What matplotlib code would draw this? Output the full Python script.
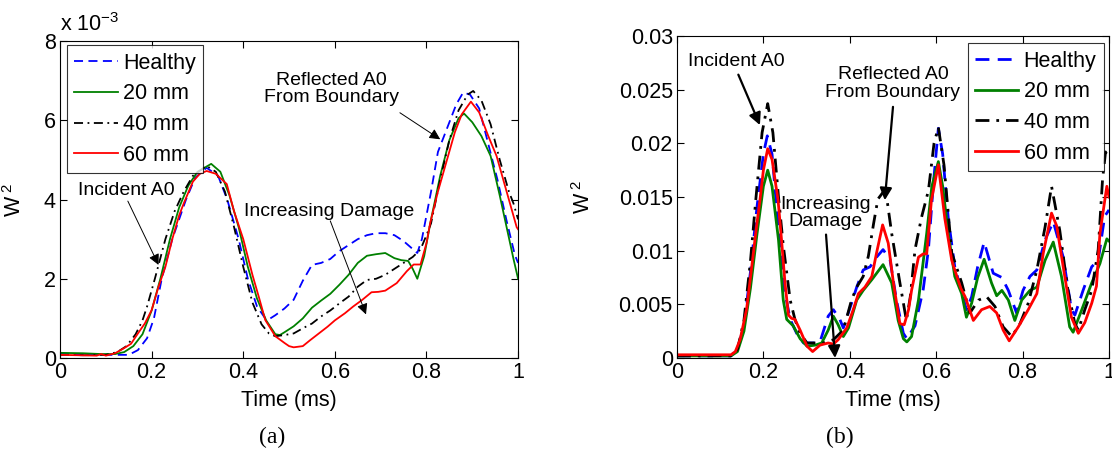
import numpy as np
import matplotlib
matplotlib.use("Agg")
from matplotlib import pyplot as plt

plt.rcParams['font.family'] = ['Liberation Sans', 'DejaVu Sans']
plt.rcParams['mathtext.fontset'] = 'custom'
plt.rcParams['mathtext.rm'] = 'Liberation Sans'
plt.rcParams['mathtext.it'] = 'Liberation Sans'
plt.rcParams['mathtext.default'] = 'regular'

labels = ['Healthy', '20 mm', '40 mm', '60 mm']

# ---- (a) energy, in units of 1e-3 ----
t_healthy_a = [0, .03, .06, .09, .12, .15, .17, .19, .205, .222, .245, .275, .295, .32, .345, .365,
               .39, .41, .43, .448, .455, .47, .49, .51, .53, .55, .57, .59, .61, .63, .65, .67,
               .69, .71, .73, .75, .77, .78, .79, .80, .81, .825, .845, .865, .88, .895, .915,
               .935, .955, .975, .993, 1.0]
healthy_a = [.11, .1, .09, .08, .08, .08, .2, .5, 1.0, 2.0, 3.0, 4.0, 4.55, 4.8, 4.6, 4.0,
             3.0, 2.0, 1.3, 1.0, .97, 1.08, 1.25, 1.47, 1.95, 2.35, 2.4, 2.5, 2.7, 2.85, 3.0, 3.1,
             3.15, 3.15, 3.1, 2.95, 2.75, 2.65, 3.0, 3.6, 4.2, 5.2, 5.8, 6.4, 6.7, 6.65, 6.3,
             5.4, 4.5, 3.46, 2.6, 2.4]

t_20mm_a = [0, .05, .09, .12, .14, .16, .18, .20, .219, .24, .26, .28, .30, .33, .35, .37, .39,
            .41, .43, .45, .47, .48, .49, .51, .53, .55, .57, .59, .61, .63, .65, .67, .69, .71,
            .73, .745, .76, .77, .78, .795, .81, .83, .85, .87, .882, .90, .92, .94, .96, .975,
            .99, 1.0]
mm20_a = [.13, .12, .1, .1, .15, .3, .6, 1.2, 2.0, 3.0, 3.8, 4.35, 4.7, 4.9, 4.7, 4.1, 3.3,
          2.3, 1.5, .95, .6, .58, .65, .8, 1.0, 1.27, 1.45, 1.62, 1.85, 2.1, 2.4, 2.58, 2.62, 2.65,
          2.52, 2.47, 2.45, 2.25, 2.0, 2.57, 3.5, 4.6, 5.5, 6.05, 6.17, 5.95, 5.6, 5.1, 4.1, 3.3,
          2.5, 2.0]

t_40mm_a = [0, .05, .1, .125, .145, .165, .18, .19, .207, .23, .25, .27, .29, .32, .34, .36, .38,
            .40, .42, .44, .456, .47, .49, .51, .53, .55, .57, .59, .61, .63, .65, .67, .69, .71,
            .73, .75, .77, .787, .80, .81, .83, .85, .87, .89, .902, .92, .94, .96, .98, .99, 1.0]
mm40_a = [.08, .07, .08, .15, .3, .6, .95, 1.3, 2.0, 3.0, 3.7, 4.2, 4.6, 4.85, 4.7, 4.2, 3.3,
          2.3, 1.4, .85, .62, .55, .58, .62, .75, .87, 1.05, 1.2, 1.38, 1.55, 1.8, 1.97, 2.0, 2.1,
          2.25, 2.4, 2.55, 2.74, 3.1, 3.4, 4.5, 5.5, 6.25, 6.65, 6.74, 6.5, 5.9, 5.0, 4.2, 3.9, 3.5]

t_60mm_a = [0, .04, .08, .09, .1, .12, .14, .155, .17, .185, .20, .215, .23, .245, .26, .27,
            .29, .305, .32, .34, .364, .38, .40, .42, .435, .448, .47, .49, .50, .51, .53, .546,
            .565, .584, .60, .622, .64, .66, .68, .695, .71, .735, .757, .772, .787, .80, .808,
            .825, .844, .862, .877, .897, .915, .935, .953, .975, .997, 1.0]
mm60_a = [.08, .07, .06, .1, .06, .12, .25, .36, .62, .87, 1.21, 1.8, 2.3, 3.0, 3.6, 3.9,
          4.45, 4.65, 4.72, 4.65, 4.39, 3.7, 3.0, 2.1, 1.5, .96, .55, .38, .3, .27, .3, .45,
          .62, .79, .95, 1.13, 1.3, 1.47, 1.66, 1.67, 1.70, 1.89, 2.19, 2.36, 2.36, 2.9, 3.4,
          4.2, 4.97, 5.7, 6.15, 6.47, 6.2, 5.6, 5.1, 4.2, 3.3, 3.25]

# ---- (b) energy ----
t_healthy_b = [0, .125, .14, .155, .17, .185, .20, .209, .22, .235, .248, .262, .277, .293, .316,
               .331, .35, .362, .377, .385, .404, .416, .431, .447, .462, .477, .493, .508, .524,
               .532, .551, .57, .582, .593, .605, .615, .628, .643, .67, .682, .696, .711, .732,
               .752, .767, .786, .801, .817, .833, .852, .871, .894, .913, .921, .94, .96, .975,
               .99, 1.0]
healthy_b = [.0002, .0002, .0008, .003, .008, .014, .019, .0207, .019, .012, .0065, .0036, .0023,
             .0014, .0014, .0015, .0039, .0045, .0036, .0028, .0051, .0066, .0082, .0085, .0094,
             .0101, .0092, .0054, .0023, .0018, .0030, .0064, .0101, .016, .0214, .019, .013,
             .0085, .0045, .0057, .0085, .0108, .0079, .0075, .0063, .0042, .0063, .0076, .0082,
             .0110, .0127, .0094, .0045, .0040, .0063, .0085, .0091, .0132, .0138]

t_20mm_b = [0, .125, .14, .155, .17, .185, .20, .21, .22, .235, .246, .254, .269, .285, .301,
            .32, .335, .35, .362, .373, .385, .397, .416, .431, .451, .477, .497, .512, .524,
            .532, .543, .559, .578, .59, .605, .615, .628, .643, .659, .670, .682, .696, .711,
            .728, .74, .752, .767, .782, .798, .817, .833, .852, .871, .89, .909, .917, .937,
            .96, .979, .995, 1.0]
mm20_b = [.0002, .0002, .0006, .0025, .0065, .0115, .016, .0175, .016, .011, .0054, .0036, .0030,
          .0018, .0011, .0012, .0014, .0026, .0039, .0031, .0020, .0028, .0054, .0063, .0073,
          .0087, .0070, .0035, .0018, .0015, .0020, .0054, .0116, .016, .0183, .016, .0116,
          .0076, .0060, .0038, .0051, .0075, .0092, .0070, .0058, .0063, .0054, .0035, .0054,
          .0063, .0066, .0091, .0108, .0076, .0029, .0024, .0045, .0070, .0088, .0111, .0109]

t_40mm_b = [0, .125, .14, .155, .17, .183, .197, .21, .222, .235, .246, .262, .273, .285, .301,
            .32, .339, .362, .385, .404, .416, .431, .443, .455, .465, .478, .487, .497, .516,
            .531, .54, .551, .566, .582, .595, .605, .618, .636, .659, .678, .698, .717, .736,
            .755, .775, .794, .813, .833, .852, .867, .886, .905, .921, .929, .944, .96, .975,
            .985, .992, 1.0]
mm40_b = [.0002, .0002, .0008, .0035, .009, .015, .021, .0237, .021, .015, .0105, .0054, .0036,
          .0023, .0014, .0014, .0014, .0017, .0026, .0054, .0066, .0076, .0095, .0125, .0148,
          .0155, .0145, .0116, .0070, .0035, .0057, .0101, .0131, .0156, .0200, .0215, .018,
          .0098, .0070, .0042, .0054, .0057, .0048, .0029, .0020, .0032, .0051, .0082, .0122,
          .0160, .0119, .0063, .0032, .0026, .0045, .0063, .0101, .0166, .0192, .0185]

t_60mm_b = [0, .05, .10, .125, .135, .146, .161, .173, .184, .192, .20, .21, .22, .234, .242,
            .25, .258, .265, .273, .285, .301, .314, .331, .35, .362, .373, .393, .408, .42,
            .435, .451, .462, .476, .489, .501, .516, .526, .536, .543, .559, .570, .578, .589,
            .605, .62, .636, .643, .657, .667, .686, .705, .724, .74, .755, .769, .79, .813,
            .833, .848, .867, .879, .894, .913, .929, .944, .96, .971, .979, .995, 1.0]
mm60_b = [.0003, .0003, .0003, .0003, .0006, .0017, .0045, .0085, .0122, .0147, .0175, .0195,
          .0185, .0147, .011, .007, .0040, .0037, .0036, .0026, .0011, .0006, .0012, .0014,
          .0013, .0017, .0028, .0045, .0060, .0066, .0076, .0098, .0124, .0107, .0070, .0032,
          .0031, .0045, .0063, .0094, .0097, .0097, .0147, .0180, .013, .0091, .0082, .0065,
          .0057, .0035, .0045, .0048, .0042, .0026, .0016, .0029, .0045, .0060, .0098, .0135,
          .0123, .0085, .0038, .0023, .0033, .0051, .0067, .0116, .0160, .0150]

colors = ['#0000ff', '#008000', '#000000', '#ff0000']
styles = [(0, (5, 3)), '-', (0, (5, 2.5, 1, 2.5)), '-']

fig = plt.figure(figsize=(11.12, 4.61), dpi=100)
ax_a = fig.add_axes([0.054, 0.2234, 0.4119, 0.6876])
ax_b = fig.add_axes([0.6088, 0.2234, 0.3885, 0.6985])

series_a = [(t_healthy_a, healthy_a), (t_20mm_a, mm20_a), (t_40mm_a, mm40_a), (t_60mm_a, mm60_a)]
series_b = [(t_healthy_b, healthy_b), (t_20mm_b, mm20_b), (t_40mm_b, mm40_b), (t_60mm_b, mm60_b)]

for (t, v), c, ls, lab in zip(series_a, colors, styles, labels):
    ax_a.plot(t, v, color=c, linestyle=ls, lw=1.3, label=lab)
for (t, v), c, ls, lab in zip(series_b, colors, styles, labels):
    ax_b.plot(t, v, color=c, linestyle=ls, lw=2.0, label=lab)

ax_a.set_xlim(0, 1)
ax_a.set_ylim(0, 8)
ax_a.set_yticks([0, 2, 4, 6, 8])
ax_a.set_yticklabels(['0', '2', '4', '6', '8'])
ax_b.set_xlim(0, 1)
ax_b.set_ylim(0, 0.03)
ax_b.set_yticks([0, .005, .01, .015, .02, .025, .03])
ax_b.set_yticklabels(['0', '0.005', '0.01', '0.015', '0.02', '0.025', '0.03'])

for ax in (ax_a, ax_b):
    ax.set_xticks([0, .2, .4, .6, .8, 1])
    ax.set_xticklabels(['0', '0.2', '0.4', '0.6', '0.8', '1'])
    ax.tick_params(direction='in', top=True, right=True, length=5, width=0.8,
                   labelsize=15.5, pad=3)
    for s in ax.spines.values():
        s.set_linewidth(0.8)
    ax.set_xlabel('Time (ms)', fontsize=15.5)
    ax.set_ylabel('W$^{\\ 2}$', fontsize=15.5)

ax_a.xaxis.set_label_coords(0.5, -0.1)
ax_b.xaxis.set_label_coords(0.5, -0.1)
ax_a.yaxis.set_label_coords(-0.075, 0.5)
ax_b.yaxis.set_label_coords(-0.19, 0.5)

ax_a.text(0.0, 1.015, 'x 10$^{-3}$', transform=ax_a.transAxes, fontsize=15.5,
          ha='left', va='bottom')

leg_kw = dict(fontsize=15.5, frameon=True, fancybox=False, edgecolor='black',
              handlelength=2.0, handletextpad=0.25, labelspacing=0.45, borderpad=0.35,
              borderaxespad=0)
leg_a = ax_a.legend(loc='upper left', bbox_to_anchor=(0.015, 0.987), **leg_kw)
leg_b = ax_b.legend(loc='upper right', bbox_to_anchor=(0.988, 0.978), **leg_kw)
for leg in (leg_a, leg_b):
    leg.get_frame().set_linewidth(0.8)

# annotations on (a)
arrow_a = dict(arrowstyle='-|>', color='black', lw=0.7, mutation_scale=16, shrinkA=0, shrinkB=0)
ax_a.text(0.144, 4.24, 'Incident A0', fontsize=14, ha='center', va='center')
ax_a.annotate('', xy=(0.215, 2.35), xytext=(0.148, 3.96), arrowprops=arrow_a)
ax_a.text(0.593, 6.79, 'Reflected A0\nFrom Boundary', fontsize=14, ha='center', va='center',
          linespacing=1.05)
ax_a.annotate('', xy=(0.83, 5.52), xytext=(0.742, 6.19), arrowprops=arrow_a)
ax_a.text(0.587, 3.71, 'Increasing Damage', fontsize=14, ha='center', va='center')
ax_a.annotate('', xy=(0.668, 1.1), xytext=(0.59, 3.46), arrowprops=arrow_a)

# annotations on (b)
arrow_b = dict(arrowstyle='-|>', color='black', lw=1.6, mutation_scale=18, shrinkA=0, shrinkB=0)
ax_b.text(0.138, 0.0276, 'Incident A0', fontsize=14, ha='center', va='center')
ax_b.annotate('', xy=(0.192, 0.0217), xytext=(0.142, 0.0264), arrowprops=arrow_b)
ax_b.text(0.50, 0.0256, 'Reflected A0\nFrom Boundary', fontsize=14, ha='center', va='center',
          linespacing=1.05)
ax_b.annotate('', xy=(0.481, 0.0147), xytext=(0.50, 0.0234), arrowprops=arrow_b)
ax_b.text(0.343, 0.0135, 'Increasing\nDamage', fontsize=14, ha='center', va='center',
          linespacing=1.05)
ax_b.annotate('', xy=(0.366, 0.0), xytext=(0.345, 0.0115), arrowprops=arrow_b)

fig.text(272 / 1112, 1 - 437 / 461, '(a)', fontsize=17, family='Liberation Serif',
         ha='center', va='center')
fig.text(840 / 1112, 1 - 437 / 461, '(b)', fontsize=17, family='Liberation Serif',
         ha='center', va='center')

fig.savefig('out.png', dpi=100)
